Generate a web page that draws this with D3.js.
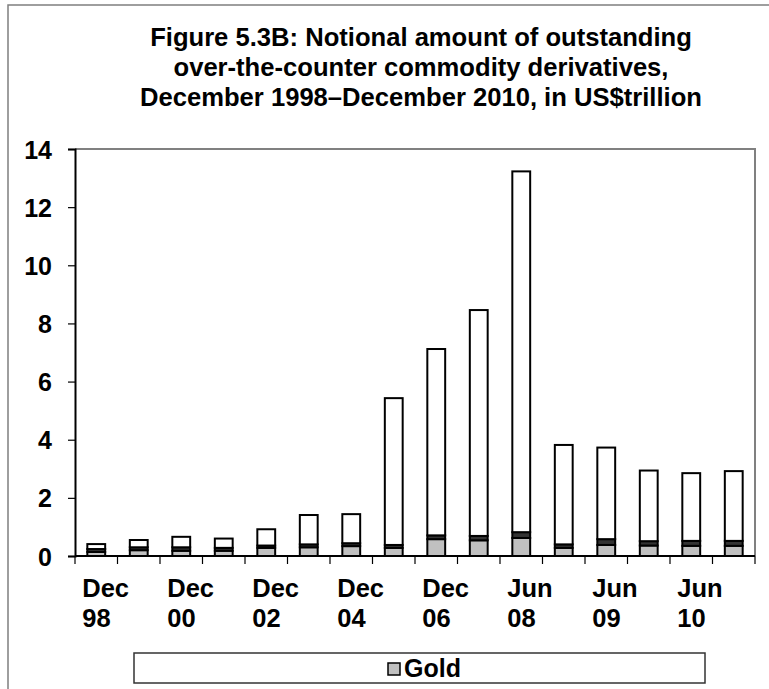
<!DOCTYPE html>
<html>
<head>
<meta charset="utf-8">
<script src="https://cdn.jsdelivr.net/npm/d3@7"></script>
<style>
  html, body { margin: 0; padding: 0; background: #fff; }
  svg { display: block; }
  text { font-family: "Liberation Sans", Arial, sans-serif; font-weight: bold; fill: #000; }
</style>
</head>
<body>
<svg id="chart" width="769" height="689"></svg>
<script>
// Half-year reporting dates (end of period)
const periods = ["Dec 98","Dec 99","Dec 00","Dec 01","Dec 02","Dec 03","Dec 04","Dec 05",
                 "Dec 06","Dec 07","Jun 08","Dec 08","Jun 09","Dec 09","Jun 10","Dec 10"];

// Notional amounts outstanding, US$ trillion
const gold           = [0.14,0.20,0.18,0.18,0.28,0.30,0.34,0.28,0.58,0.54,0.62,0.28,0.38,0.36,0.35,0.35];
const preciousMetals = [0.10,0.10,0.12,0.10,0.08,0.10,0.10,0.10,0.13,0.15,0.20,0.12,0.20,0.15,0.17,0.17];
const otherCommod    = [0.17,0.25,0.36,0.32,0.56,1.01,1.00,5.05,6.41,7.77,12.41,3.42,3.15,2.43,2.33,2.40];

// Axis labels
const yTicks = [0,2,4,6,8,10,12,14];
const xLabelLines = {"Dec 98":["Dec","98"],"Dec 00":["Dec","00"],"Dec 02":["Dec","02"],
                     "Dec 04":["Dec","04"],"Dec 06":["Dec","06"],"Jun 08":["Jun","08"],
                     "Jun 09":["Jun","09"],"Jun 10":["Jun","10"]};
const titleLines = ["Figure 5.3B: Notional amount of outstanding",
                    "over-the-counter commodity derivatives,",
                    "December 1998\u2013December 2010, in US$trillion"];
const legendLabel = "Gold";

const seriesKeys = ["gold","precious","other"];
const fills = {gold:"#c0c0c0", precious:"#333333", other:"#ffffff"};

const rows = periods.map((p,i) => ({period:p, gold:gold[i], precious:preciousMetals[i], other:otherCommod[i]}));

const svg = d3.select("#chart");
const plot = {left:75, right:755, top:149, bottom:556};

// Outer frame
svg.append("rect").attr("x",8).attr("y",5).attr("width",900).attr("height",900)
  .attr("fill","#fff").attr("stroke","#7f7f7f").attr("stroke-width",1.5);

// Title
svg.append("g").selectAll("text").data(titleLines).join("text")
  .attr("x",421).attr("y",(d,i)=>46+i*30)
  .attr("text-anchor","middle").attr("font-size",25.6).text(d=>d);

const x = d3.scaleBand().domain(periods).range([plot.left,plot.right])
  .paddingInner(0.58).paddingOuter(0.29);
const y = d3.scaleLinear().domain([0,14]).range([plot.bottom,plot.top]);
const step = x.step();

// Plot frame (top and right edges)
svg.append("path")
  .attr("d",`M${plot.left},${plot.top}H${plot.right}V${plot.bottom}`)
  .attr("fill","none").attr("stroke","#808080").attr("stroke-width",2);

// Stacked bars
const stacked = d3.stack().keys(seriesKeys)(rows);
svg.append("g").selectAll("g").data(stacked).join("g")
  .attr("fill",d=>fills[d.key])
  .selectAll("rect").data(d=>d).join("rect")
  .attr("x",d=>x(d.data.period))
  .attr("width",x.bandwidth())
  .attr("y",d=>y(d[1]))
  .attr("height",d=>y(d[0])-y(d[1]))
  .attr("stroke","#000").attr("stroke-width",2);

// Y axis
const yAxis = svg.append("g").attr("transform",`translate(${plot.left},0)`)
  .call(d3.axisLeft(y).tickValues(yTicks).tickSize(7).tickPadding(16).tickFormat(d3.format("d")));
yAxis.select(".domain").attr("stroke","#000").attr("stroke-width",2);
yAxis.selectAll(".tick line").attr("stroke","#000").attr("stroke-width",1.2);
yAxis.selectAll(".tick text").attr("font-size",25).attr("font-family",null).attr("dy","0.36em");

// X axis line and tick marks at category boundaries
const xAxis = svg.append("g");
xAxis.append("line").attr("x1",plot.left).attr("x2",plot.right)
  .attr("y1",plot.bottom).attr("y2",plot.bottom).attr("stroke","#000").attr("stroke-width",2);
const boundaries = periods.map(p => x(p) - (step - x.bandwidth())/2).concat([plot.right]);
xAxis.selectAll("line.tk").data(boundaries).join("line").attr("class","tk")
  .attr("x1",d=>d).attr("x2",d=>d).attr("y1",plot.bottom).attr("y2",plot.bottom+8)
  .attr("stroke","#000").attr("stroke-width",1.2);

// Category labels, every second period
const labelled = periods.filter(p => xLabelLines[p]);
const lab = xAxis.selectAll("text").data(labelled).join("text")
  .attr("y",597).attr("font-size",25.5);
lab.selectAll("tspan").data(p => xLabelLines[p].map(t => ({t, p}))).join("tspan")
  .attr("x",d => x(d.p) + x.bandwidth()/2 - 14)
  .attr("dy",(d,i)=> i ? 30 : 0).text(d=>d.t);

// Legend
const lg = svg.append("g");
lg.append("rect").attr("x",134).attr("y",653).attr("width",571).attr("height",30)
  .attr("fill","#fff").attr("stroke","#333").attr("stroke-width",1.5);
lg.append("rect").attr("x",388).attr("y",663).attr("width",12).attr("height",12)
  .attr("fill",fills.gold).attr("stroke","#000").attr("stroke-width",1.5);
lg.append("text").attr("x",404).attr("y",677).attr("font-size",25).text(legendLabel);
</script>
</body>
</html>
